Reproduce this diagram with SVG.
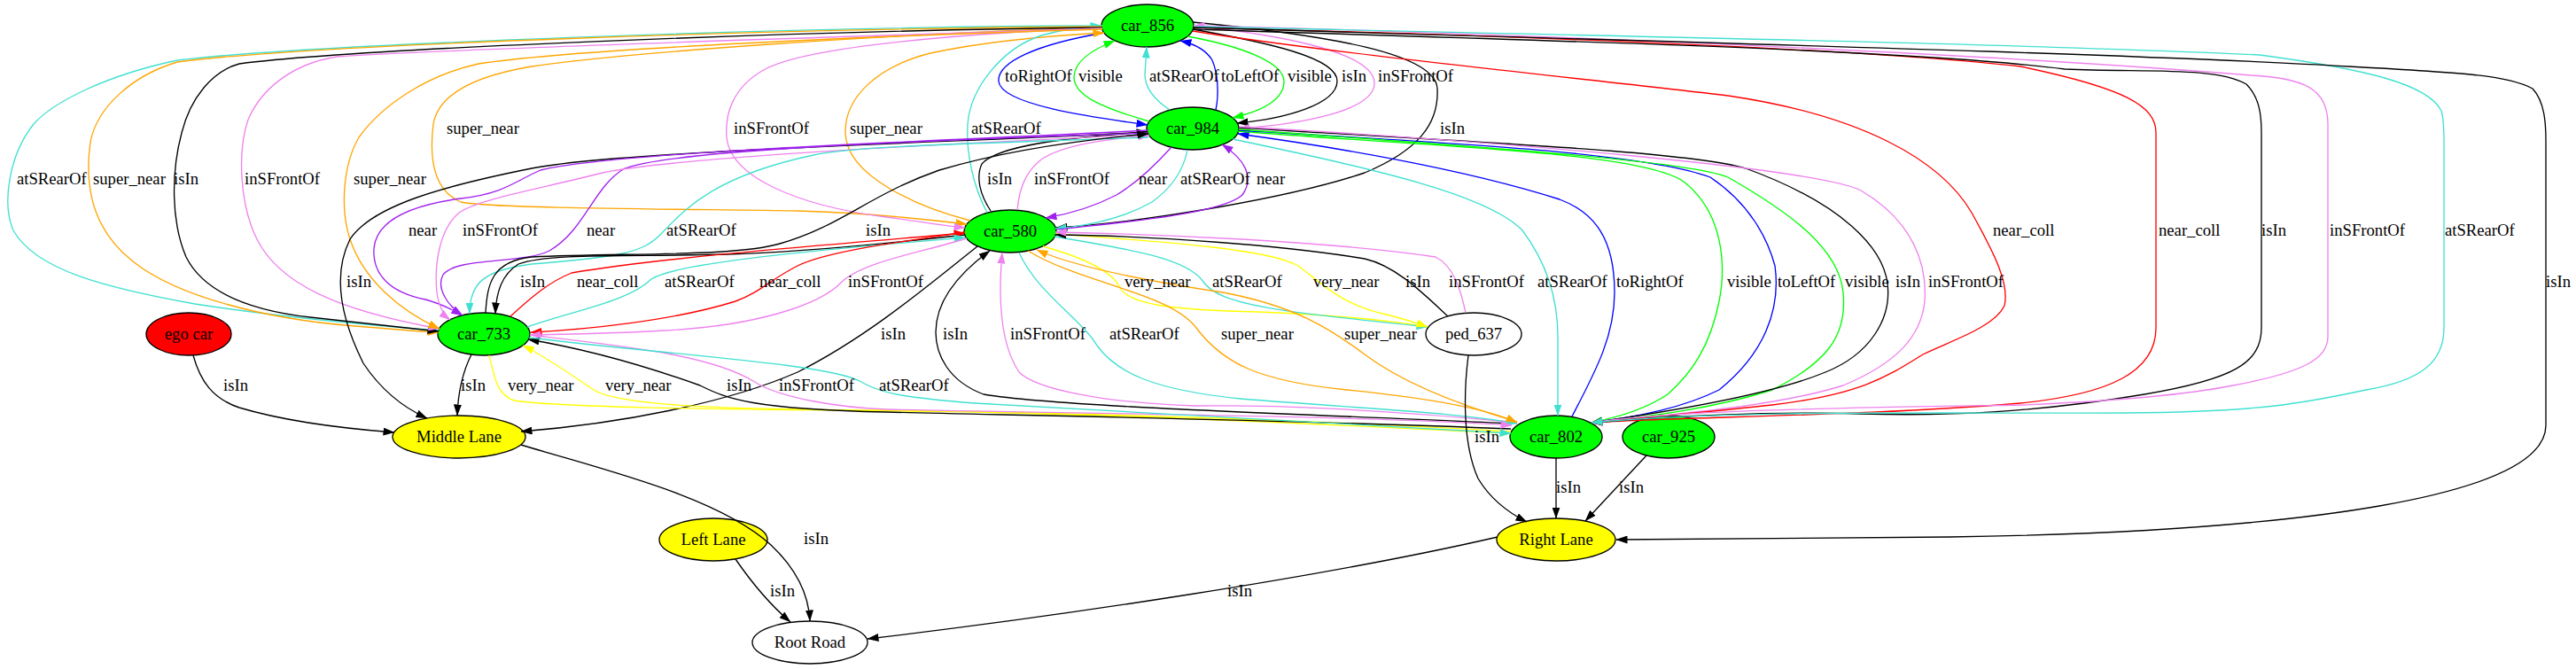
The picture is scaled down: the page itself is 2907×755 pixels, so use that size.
<svg xmlns="http://www.w3.org/2000/svg" width="2907" height="755" viewBox="0 0 2907 755">
<style>
text{font-family:"Liberation Serif","Times New Roman",serif;font-size:18.67px;fill:#000}
.n text{text-anchor:middle}
.n ellipse{stroke:#000;stroke-width:1.33}
.e path{fill:none;stroke-width:1.33}
.k{stroke:#000;marker-end:url(#mk)}
.r{stroke:#f00;marker-end:url(#mr)}
.g{stroke:#0f0;marker-end:url(#mg)}
.b{stroke:#00f;marker-end:url(#mb)}
.t{stroke:#40e0d0;marker-end:url(#mt)}
.v{stroke:#ee82ee;marker-end:url(#mv)}
.p{stroke:#a020f0;marker-end:url(#mp)}
.o{stroke:#ffa500;marker-end:url(#mo)}
.y{stroke:#ff0;marker-end:url(#my)}
</style>
<defs>
<marker id="mk" viewBox="0 0 13 9" refX="12.5" refY="4.5" markerWidth="13" markerHeight="9" markerUnits="userSpaceOnUse" orient="auto"><path d="M0,0 L13,4.5 L0,9 z" fill="#000"/></marker>
<marker id="mr" viewBox="0 0 13 9" refX="12.5" refY="4.5" markerWidth="13" markerHeight="9" markerUnits="userSpaceOnUse" orient="auto"><path d="M0,0 L13,4.5 L0,9 z" fill="#f00"/></marker>
<marker id="mg" viewBox="0 0 13 9" refX="12.5" refY="4.5" markerWidth="13" markerHeight="9" markerUnits="userSpaceOnUse" orient="auto"><path d="M0,0 L13,4.5 L0,9 z" fill="#0f0"/></marker>
<marker id="mb" viewBox="0 0 13 9" refX="12.5" refY="4.5" markerWidth="13" markerHeight="9" markerUnits="userSpaceOnUse" orient="auto"><path d="M0,0 L13,4.5 L0,9 z" fill="#00f"/></marker>
<marker id="mt" viewBox="0 0 13 9" refX="12.5" refY="4.5" markerWidth="13" markerHeight="9" markerUnits="userSpaceOnUse" orient="auto"><path d="M0,0 L13,4.5 L0,9 z" fill="#40e0d0"/></marker>
<marker id="mv" viewBox="0 0 13 9" refX="12.5" refY="4.5" markerWidth="13" markerHeight="9" markerUnits="userSpaceOnUse" orient="auto"><path d="M0,0 L13,4.5 L0,9 z" fill="#ee82ee"/></marker>
<marker id="mp" viewBox="0 0 13 9" refX="12.5" refY="4.5" markerWidth="13" markerHeight="9" markerUnits="userSpaceOnUse" orient="auto"><path d="M0,0 L13,4.5 L0,9 z" fill="#a020f0"/></marker>
<marker id="mo" viewBox="0 0 13 9" refX="12.5" refY="4.5" markerWidth="13" markerHeight="9" markerUnits="userSpaceOnUse" orient="auto"><path d="M0,0 L13,4.5 L0,9 z" fill="#ffa500"/></marker>
<marker id="my" viewBox="0 0 13 9" refX="12.5" refY="4.5" markerWidth="13" markerHeight="9" markerUnits="userSpaceOnUse" orient="auto"><path d="M0,0 L13,4.5 L0,9 z" fill="#ff0"/></marker>
</defs>
<rect width="2907" height="755" fill="#fff"/>

<g id="nodes" class="n">
<g id="car_856"><ellipse cx="1295" cy="29" rx="52" ry="24" fill="#0f0"/><text x="1295" y="35">car_856</text></g>
<g id="car_984"><ellipse cx="1346" cy="145" rx="52" ry="24" fill="#0f0"/><text x="1346" y="151">car_984</text></g>
<g id="car_580"><ellipse cx="1140" cy="261" rx="52" ry="24" fill="#0f0"/><text x="1140" y="267">car_580</text></g>
<g id="car_733"><ellipse cx="546" cy="377" rx="52" ry="24" fill="#0f0"/><text x="546" y="383">car_733</text></g>
<g id="ego_car"><ellipse cx="213" cy="377" rx="48" ry="24" fill="#f00"/><text x="213" y="383">ego car</text></g>
<g id="ped_637"><ellipse cx="1663" cy="377" rx="54" ry="24" fill="#fff"/><text x="1663" y="383">ped_637</text></g>
<g id="middle_lane"><ellipse cx="518" cy="493" rx="75" ry="24" fill="#ff0"/><text x="518" y="499">Middle Lane</text></g>
<g id="car_802"><ellipse cx="1756" cy="493" rx="52" ry="24" fill="#0f0"/><text x="1756" y="499">car_802</text></g>
<g id="car_925"><ellipse cx="1883" cy="493" rx="52" ry="24" fill="#0f0"/><text x="1883" y="499">car_925</text></g>
<g id="left_lane"><ellipse cx="805" cy="609" rx="61" ry="24" fill="#ff0"/><text x="805" y="615">Left Lane</text></g>
<g id="right_lane"><ellipse cx="1756" cy="609" rx="67" ry="24" fill="#ff0"/><text x="1756" y="615">Right Lane</text></g>
<g id="root_road"><ellipse cx="914" cy="725" rx="65" ry="24" fill="#fff"/><text x="914" y="731">Root Road</text></g>
</g>

<g id="connectors" class="e">
<!-- car_856 <-> car_984 -->
<path class="b" d="M1246,37 C1170,50 1125,70 1127,92 C1130,118 1230,132 1295,141"/>
<path class="g" d="M1297,137 C1245,122 1211,108 1212,86 C1213,68 1235,55 1258,46"/>
<path class="t" d="M1320,124 C1302,112 1292,98 1292,84 L1294,53"/>
<path class="b" d="M1372,124 C1376,105 1374,82 1368,68 C1362,58 1350,50 1332,46"/>
<path class="g" d="M1340,41 C1400,52 1449,70 1449,92 C1449,112 1425,125 1391,133"/>
<path class="k" d="M1346,33 C1430,48 1510,65 1509,92 C1508,118 1450,134 1396,139"/>
<path class="v" d="M1347,29 C1450,40 1553,60 1551,95 C1549,125 1470,140 1398,145"/>
<!-- car_856 <-> car_580 -->
<path class="k" d="M1346,25 C1500,40 1620,60 1622,100 C1624,140 1600,170 1540,195 C1460,222 1300,250 1192,257"/>
<path class="o" d="M1244,31 C1000,38 700,60 600,75 C540,85 495,105 489,140 C484,180 490,215 520,228 C560,236 800,236 900,238 C980,240 1050,248 1091,253"/>
<path class="v" d="M1244,31 C1050,40 900,55 860,80 C826,100 818,130 820,155 C824,200 900,232 1000,245 C1040,250 1065,255 1089,257"/>
<path class="o" d="M1095,249 C1040,235 955,200 954,150 C953,110 990,75 1050,60 C1120,45 1190,40 1246,37"/>
<path class="t" d="M1114,240 C1098,210 1090,172 1092,140 C1095,100 1130,55 1175,40 C1200,33 1220,30 1243,29"/>
<!-- car_856 -> car_733 -->
<path class="t" d="M1244,29 C900,30 350,50 200,68 C120,85 60,115 38,140 C10,175 2,230 15,260 C40,305 120,325 220,343 C330,360 430,368 495,373"/>
<path class="o" d="M1244,30 C900,32 350,50 200,70 C150,85 110,120 102,160 C95,210 105,260 150,295 C200,335 300,360 400,368 C440,371 470,374 495,375"/>
<path class="k" d="M1244,31 C900,35 400,55 270,72 C240,80 215,110 205,150 C193,195 193,250 210,290 C230,330 280,350 350,358 C410,365 460,370 495,374"/>
<path class="v" d="M1244,32 C1000,40 500,55 380,64 C330,72 295,100 280,135 C268,170 270,230 290,270 C315,320 380,350 496,371"/>
<path class="o" d="M1244,33 C1000,40 650,55 540,72 C480,85 430,120 405,155 C385,190 385,240 395,270 C410,315 450,350 496,371"/>
<!-- car_984 <-> car_580 -->
<path class="k" d="M1118,238 C1106,220 1101,200 1108,185 C1125,165 1200,155 1295,149"/>
<path class="v" d="M1148,237 C1150,215 1156,195 1175,180 C1200,163 1250,157 1297,153"/>
<path class="p" d="M1322,166 C1305,185 1285,205 1260,220 C1235,233 1210,241 1180,246"/>
<path class="t" d="M1340,169 C1336,190 1325,210 1300,228 C1270,245 1230,255 1191,258"/>
<path class="p" d="M1192,259 C1280,250 1380,240 1402,220 C1416,200 1405,180 1379,163"/>
<!-- car_984 -> car_733 / Middle Lane -->
<path class="k" d="M1295,149 C1100,160 700,170 600,190 C500,210 420,232 395,270 C375,310 385,360 410,410 C430,440 455,460 482,472"/>
<path class="p" d="M1296,147 C1100,158 700,170 610,192 C580,205 570,218 520,224 C460,232 425,250 422,280 C420,310 440,330 480,338 C495,342 508,348 522,356"/>
<path class="p" d="M1296,150 C1000,160 760,170 705,190 C670,210 660,260 620,283 C590,298 515,290 500,310 C492,325 505,345 522,356"/>
<path class="v" d="M1296,152 C1000,165 750,180 680,195 C600,215 540,225 518,240 C495,260 490,300 493,330 C495,345 500,355 508,361"/>
<path class="t" d="M1296,155 C1100,162 960,165 918,175 C800,200 770,240 745,265 C725,285 700,290 600,298 C545,305 530,320 530,354"/>
<path class="k" d="M548,353 C550,320 555,295 600,290 C700,285 830,290 880,275 C950,255 980,220 1060,192 C1140,168 1230,157 1296,151"/>
<!-- car_580 <-> car_733 -->
<path class="k" d="M1089,265 C1000,275 900,285 820,287 C720,290 620,285 585,298 C566,310 560,330 559,354"/>
<path class="r" d="M576,357 C600,335 620,318 645,308 C750,290 950,275 1089,263"/>
<path class="t" d="M595,369 C650,350 710,340 735,315 C765,295 950,280 1089,268"/>
<path class="r" d="M1089,262 C1000,275 930,285 900,300 C870,315 858,330 830,340 C760,362 660,372 599,375"/>
<path class="v" d="M1091,269 C1040,285 975,295 950,318 C925,345 850,368 750,373 C700,376 650,377 598,378"/>
<!-- car_580 <-> ped_637 -->
<path class="y" d="M1177,278 C1220,290 1255,305 1264,325 C1276,345 1330,350 1420,352 C1500,355 1570,362 1611,369"/>
<path class="t" d="M1190,267 C1280,282 1340,292 1358,318 C1376,345 1450,352 1611,369"/>
<path class="y" d="M1191,264 C1300,272 1430,280 1465,300 C1492,320 1515,345 1565,355 C1585,360 1600,365 1611,369"/>
<path class="k" d="M1634,357 C1605,330 1575,300 1540,292 C1450,277 1300,266 1191,265"/>
<path class="v" d="M1654,353 C1648,325 1640,300 1620,290 C1500,272 1300,264 1191,262"/>
<!-- car_580 -> Middle Lane, car_580 <-> car_802 -->
<path class="k" d="M1103,278 C1050,320 980,380 900,420 C820,455 700,478 588,487"/>
<path class="k" d="M1704,478 C1500,468 1200,460 1110,445 C1070,430 1056,400 1056,375 C1056,340 1080,310 1117,283"/>
<path class="v" d="M1704,476 C1550,462 1450,457 1350,458 C1250,455 1170,440 1150,420 C1130,390 1126,340 1131,285"/>
<path class="t" d="M1150,285 C1170,330 1220,360 1238,390 C1260,420 1300,440 1400,450 C1550,462 1650,466 1712,478"/>
<path class="o" d="M1160,283 C1220,320 1320,330 1350,370 C1380,410 1420,430 1520,440 C1620,450 1680,462 1712,477"/>
<path class="o" d="M1712,476 C1640,455 1580,430 1540,400 C1500,370 1460,345 1380,330 C1280,315 1210,300 1170,282"/>
<!-- car_733 <-> car_802 -->
<path class="y" d="M552,401 C558,425 560,445 580,452 C650,462 900,462 1100,465 C1400,472 1600,485 1705,489"/>
<path class="y" d="M1705,487 C1500,475 1200,465 1000,463 C850,462 700,460 670,440 C640,420 615,402 590,390"/>
<path class="k" d="M1705,484 C1400,472 1100,468 1000,465 C850,462 820,450 790,435 C720,410 650,392 596,383"/>
<path class="v" d="M598,378 C700,390 800,400 850,430 C880,450 950,460 1000,462 C1300,468 1550,470 1706,480"/>
<path class="t" d="M597,381 C750,400 930,410 970,430 C990,442 1010,448 1100,455 C1350,470 1550,482 1705,489"/>
<!-- car_984 <-> car_802 -->
<path class="t" d="M1391,157 C1550,190 1680,220 1718,260 C1748,300 1758,340 1758,380 L1758,469"/>
<path class="b" d="M1774,470 C1800,420 1822,380 1822,330 C1822,270 1800,240 1760,225 C1650,190 1500,165 1397,151"/>
<path class="g" d="M1397,148 C1600,165 1850,170 1900,205 C1945,240 1948,300 1940,340 C1930,390 1910,420 1882,445 C1860,460 1830,470 1796,477"/>
<path class="b" d="M1398,147 C1600,160 1850,170 1930,200 C1975,230 1995,270 2003,300 C2010,350 1990,400 1940,440 C1900,460 1850,470 1796,477"/>
<path class="g" d="M1398,146 C1650,165 1900,180 1950,200 C2020,240 2075,280 2080,330 C2085,380 2060,410 2000,440 C1930,462 1860,470 1796,477"/>
<path class="k" d="M1398,144 C1650,160 1900,170 1970,190 C2080,230 2125,280 2130,320 C2135,360 2110,400 2060,420 C2000,445 1880,465 1796,477"/>
<path class="v" d="M1398,143 C1700,160 2050,190 2100,215 C2160,250 2175,300 2172,340 C2168,380 2140,410 2080,435 C2000,460 1880,468 1796,477"/>
<!-- car_856 <-> car_802 (right side) -->
<path class="r" d="M1346,35 C1500,60 1800,90 1950,108 C2100,130 2190,180 2225,240 C2250,285 2268,320 2262,345 C2250,370 2200,385 2170,400 C2130,425 2100,445 2000,457 C1930,465 1860,470 1796,477"/>
<path class="r" d="M1347,31 C1700,40 2100,55 2280,75 C2400,100 2433,120 2433,150 L2433,370 C2433,420 2380,445 2280,455 C2100,470 1900,470 1796,477"/>
<path class="k" d="M1347,33 C1700,45 2150,55 2330,78 C2420,82 2500,75 2535,95 C2550,110 2552,130 2552,150 L2552,370 C2552,410 2520,428 2420,445 C2300,465 2200,470 2100,467 C2000,464 1880,470 1796,477"/>
<path class="v" d="M1796,477 C1900,462 2100,460 2285,457 C2400,452 2470,445 2520,435 C2600,420 2627,405 2627,380 L2627,140 C2627,100 2600,88 2540,85 C2300,65 1800,40 1347,29"/>
<path class="t" d="M1348,30 C1800,40 2300,50 2550,62 C2670,78 2740,95 2755,125 C2758,135 2758,150 2758,160 L2758,370 C2758,410 2730,430 2670,440 C2600,455 2550,465 2400,466 C2200,467 1950,462 1796,477"/>
<path class="k" d="M1347,31 C1800,45 2400,60 2650,75 C2780,82 2830,85 2858,100 C2872,115 2873,140 2873,160 L2873,480 C2873,560 2600,600 2200,606 C2000,608 1900,609 1824,609"/>
<!-- lanes and road -->
<path class="k" d="M218,401 C226,430 240,450 270,460 C320,475 380,483 445,488"/>
<path class="k" d="M532,400 C522,420 517,440 516,469"/>
<path class="k" d="M1657,401 C1652,440 1650,500 1668,540 C1683,565 1705,580 1723,589"/>
<path class="k" d="M1756,517 L1756,585"/>
<path class="k" d="M1858,514 L1789,588"/>
<path class="k" d="M588,502 C680,530 810,560 870,615 C905,648 913,678 914,701"/>
<path class="k" d="M830,631 C850,660 872,685 892,702"/>
<path class="k" d="M1690,606 C1500,650 1200,695 979,721"/>

<g id="edge-labels">
<text x="1134" y="92">toRightOf</text><text x="1217" y="92">visible</text><text x="1297" y="92">atSRearOf</text><text x="1378" y="92">toLeftOf</text><text x="1453" y="92">visible</text><text x="1514" y="92">isIn</text><text x="1555" y="92">inSFrontOf</text>
<text x="504" y="151">super_near</text><text x="828" y="151">inSFrontOf</text><text x="959" y="151">super_near</text><text x="1096" y="151">atSRearOf</text><text x="1625" y="151">isIn</text>
<text x="19" y="208">atSRearOf</text><text x="105" y="208">super_near</text><text x="196" y="208">isIn</text><text x="276" y="208">inSFrontOf</text><text x="399" y="208">super_near</text><text x="1114" y="208">isIn</text><text x="1167" y="208">inSFrontOf</text><text x="1285" y="208">near</text><text x="1332" y="208">atSRearOf</text><text x="1418" y="208">near</text>
<text x="461" y="266">near</text><text x="522" y="266">inSFrontOf</text><text x="662" y="266">near</text><text x="752" y="266">atSRearOf</text><text x="977" y="266">isIn</text><text x="2249" y="266">near_coll</text><text x="2436" y="266">near_coll</text><text x="2552" y="266">isIn</text><text x="2629" y="266">inSFrontOf</text><text x="2759" y="266">atSRearOf</text>
<text x="391" y="324">isIn</text><text x="587" y="324">isIn</text><text x="651" y="324">near_coll</text><text x="750" y="324">atSRearOf</text><text x="857" y="324">near_coll</text><text x="957" y="324">inSFrontOf</text><text x="1269" y="324">very_near</text><text x="1368" y="324">atSRearOf</text><text x="1482" y="324">very_near</text><text x="1586" y="324">isIn</text><text x="1635" y="324">inSFrontOf</text><text x="1735" y="324">atSRearOf</text><text x="1824" y="324">toRightOf</text><text x="1949" y="324">visible</text><text x="2006" y="324">toLeftOf</text><text x="2082" y="324">visible</text><text x="2139" y="324">isIn</text><text x="2176" y="324">inSFrontOf</text><text x="2873" y="324">isIn</text>
<text x="994" y="383">isIn</text><text x="1064" y="383">isIn</text><text x="1140" y="383">inSFrontOf</text><text x="1252" y="383">atSRearOf</text><text x="1378" y="383">super_near</text><text x="1517" y="383">super_near</text>
<text x="252" y="441">isIn</text><text x="520" y="441">isIn</text><text x="573" y="441">very_near</text><text x="683" y="441">very_near</text><text x="820" y="441">isIn</text><text x="879" y="441">inSFrontOf</text><text x="992" y="441">atSRearOf</text>
<text x="1664" y="499">isIn</text>
<text x="1756" y="556">isIn</text><text x="1827" y="556">isIn</text>
<text x="907" y="614">isIn</text>
<text x="869" y="673">isIn</text><text x="1385" y="673">isIn</text>
</g>
</g>
</svg>
